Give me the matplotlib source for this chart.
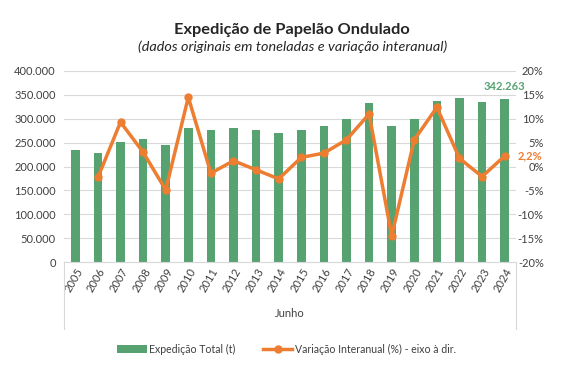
import matplotlib
matplotlib.use("Agg")
import matplotlib.pyplot as plt
from matplotlib.ticker import FuncFormatter

# dados (Junho de cada ano)
anos = ["2005", "2006", "2007", "2008", "2009", "2010", "2011", "2012", "2013", "2014",
        "2015", "2016", "2017", "2018", "2019", "2020", "2021", "2022", "2023", "2024"]
expedicao = [235000, 229000, 251000, 257000, 245000, 280000, 276000, 280000, 277000, 271000,
             276000, 284000, 300000, 332000, 284000, 300000, 338000, 343500, 335000, 342263]
variacao = [None, -2.3, 9.3, 3.0, -4.9, 14.5, -1.4, 1.2, -0.7, -2.6,
            1.9, 2.8, 5.6, 11.0, -14.5, 5.6, 12.4, 1.7, -2.1, 2.2]

verde = "#56A270"
laranja = "#ED7D31"
cinza_txt = "#404040"

plt.rcParams["font.family"] = ["Lato", "DejaVu Sans"]

fig = plt.figure(figsize=(5.73, 3.75), dpi=100)
ax = fig.add_axes([0.1117, 0.3013, 0.7888, 0.5094])
x = list(range(len(anos)))

ax.bar(x, expedicao, width=0.38, color=verde, zorder=2, label="Expedição Total (t)")
ax.set_ylim(0, 400000)
ax.set_yticks(range(0, 400001, 50000))
ax.yaxis.set_major_formatter(FuncFormatter(lambda v, p: f"{int(v):,}".replace(",", ".")))
ax.set_xlim(-0.5, len(anos) - 0.5)
ax.set_xticks(x)
ax.set_xticklabels(anos, rotation=60, ha="right", rotation_mode="anchor")
ax.grid(axis="y", color="#D9D9D9", linewidth=0.8, zorder=0)
ax.set_axisbelow(True)
for s in ["top", "right", "left"]:
    ax.spines[s].set_visible(False)
ax.spines["bottom"].set_color("#D9D9D9")
ax.tick_params(axis="both", length=0, labelsize=8, colors=cinza_txt)
ax.tick_params(axis="y", pad=6)
ax.tick_params(axis="x", pad=3)

ax2 = ax.twinx()
xs = [i for i, v in zip(x, variacao) if v is not None]
vs = [v for v in variacao if v is not None]
ax2.plot(xs, vs, color=laranja, linewidth=2.5, marker="o", markersize=5, zorder=3,
         label="Variação Interanual (%) - eixo à dir.")
ax2.set_ylim(-20, 20)
ax2.set_yticks(range(-20, 21, 5))
ax2.yaxis.set_major_formatter(FuncFormatter(lambda v, p: f"{int(v)}%"))
for s in ["top", "right", "left", "bottom"]:
    ax2.spines[s].set_visible(False)
ax2.tick_params(axis="y", length=0, labelsize=8, colors=cinza_txt, pad=20)
for lbl in ax2.get_yticklabels():
    lbl.set_horizontalalignment("right")

# rótulos de destaque
ax.annotate(f"{expedicao[-1]:,}".replace(",", "."), (x[-1], expedicao[-1]),
            xytext=(0, 5), textcoords="offset points", ha="center", va="bottom",
            color=verde, fontsize=8, fontweight="bold")
ax2.annotate(f"{variacao[-1]:.1f}%".replace(".", ","), (x[-1], variacao[-1]),
             xytext=(9, 0), textcoords="offset points", ha="left", va="center",
             color=laranja, fontsize=8, fontweight="bold")

# caixa do eixo de categorias
for xv in [0, 1]:
    ax.plot([xv, xv], [0, -0.35], transform=ax.transAxes, color="#D9D9D9",
            linewidth=0.8, clip_on=False)
ax.text(0.5, -0.267, "Junho", transform=ax.transAxes, ha="center", va="center",
        fontsize=8, color=cinza_txt)

fig.text(0.51, 0.92, "Expedição de Papelão Ondulado", ha="center", va="center",
         fontsize=11.8, fontweight="bold", color="#262626")
fig.text(0.51, 0.875, "(dados originais em toneladas e variação interanual)", ha="center",
         va="center", fontsize=10.4, style="italic", color="#262626")

h1, l1 = ax.get_legend_handles_labels()
h2, l2 = ax2.get_legend_handles_labels()
fig.legend(h1 + h2, l1 + l2, loc="center", bbox_to_anchor=(0.5, 0.069), ncol=2,
           frameon=False, fontsize=7.6, handlelength=2.8, handletextpad=0.2,
           columnspacing=2.6, labelcolor=cinza_txt)

fig.savefig("out.png", dpi=100)
